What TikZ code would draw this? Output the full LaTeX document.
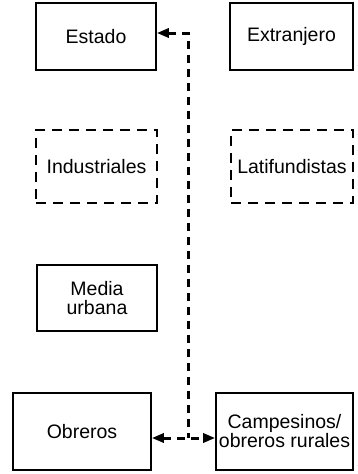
\documentclass[tikz,border=0pt]{standalone}
\usepackage{fontspec}
\setmainfont{Liberation Sans}
\usetikzlibrary{arrows.meta}
\begin{document}
\begin{tikzpicture}[x=1pt, y=-1pt,
    caja/.style={draw, line width=1.6pt, align=center, inner sep=0pt,
      font=\fontsize{19.5}{19}\selectfont},
    cajad/.style={caja, line width=1.7pt, dash pattern=on 10pt off 7pt},
    flujo/.style={line width=3pt, dash pattern=on 8pt off 6pt,
      >={Triangle[length=12pt, width=9pt]}}]
      \useasboundingbox (0, 0) rectangle (357, 474);
      \node [caja, minimum width=120pt, minimum height=67pt] (estado) at (96, 36.5) {Estado};
      \node [caja, minimum width=123pt, minimum height=67pt] (extranjero) at (291.5, 36.5) {Extranjero};
      \node [cajad, minimum width=121pt, minimum height=73pt] (industriales) at (96.5, 166.5) {Industriales};
      \node [cajad, minimum width=122pt, minimum height=73pt] (latifundistas) at (292, 166.5) {Latifundistas};
      \node [caja, minimum width=120pt, minimum height=66pt] (media) at (97, 298) {Media\\urbana};
      \node [caja, minimum width=138pt, minimum height=77pt] (obreros) at (82, 431.5) {Obreros};
      \node [caja, minimum width=137pt, minimum height=77pt] (campesinos) at (284.5, 431.5) {Campesinos/\\obreros rurales};
      \coordinate (arriba) at (188, 33);
      \coordinate (abajo) at (188, 438);
      \draw [flujo, <-] (arriba -| estado.east) -- (arriba) -- (abajo);
      \draw [flujo, <->] (abajo -| obreros.east) -- (abajo -| campesinos.west);
    \end{tikzpicture}
\end{document}
